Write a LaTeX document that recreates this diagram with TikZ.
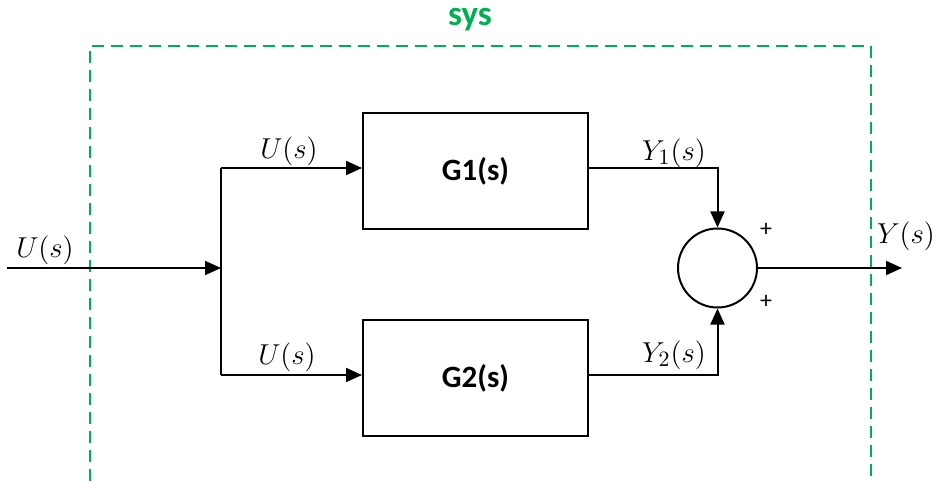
\documentclass[tikz,border=0pt]{standalone}
\usepackage{fontspec}
\setmainfont{Carlito}
\usetikzlibrary{positioning,calc,arrows.meta}
\definecolor{sysgreen}{HTML}{00B050}

\begin{document}
\begin{tikzpicture}[x=0.5pt,y=-0.5pt,line width=1pt,
	blk/.style={draw,minimum width=112.5pt,minimum height=58pt,inner sep=0pt,font=\fontsize{15.5}{18}\selectfont\bfseries},
	sumnode/.style={draw,circle,minimum size=39.5pt,inner sep=0pt},
	lbl/.style={inner sep=0pt,font=\fontsize{15}{17}\selectfont},
	arr/.style={-{Triangle[length=8pt,width=7pt]}}]
	\useasboundingbox (0,0) rectangle (933,481);
	% system frame
	\draw[sysgreen,dash pattern=on 6pt off 3.5pt] (90,481) -- (90,46) -- (871,46) -- (871,481);
	\node[text=sysgreen,font=\fontsize{17.5}{20}\selectfont\bfseries] (sys) at (470,20) {sys};
	% blocks
	\node[blk] (G1) at (475.5,171.5) {G1(s)};
	\node[blk] (G2) at (475.5,378) {G2(s)};
	\node[sumnode] (sum) at (717.5,268) {};
	\coordinate (in) at (7,268);
	\coordinate (split) at (221,268);
	\coordinate (top) at (221,168);
	\coordinate (bot) at (221,375);
	\coordinate (out) at (902,268);
	% connectors
	\draw[arr] (in) -- (split);
	\draw (top) -- (bot);
	\draw[arr] (top) -- (top -| G1.west);
	\draw[arr] (bot) -- (bot -| G2.west);
	\draw[arr] (G1.east |- top) -| (sum.north);
	\draw[arr] (G2.east |- bot) -| (sum.south);
	\draw[arr] (sum.east) -- (out);
	% labels
	\node[lbl] (uin) at (45,250) {$U(s)$};
	\node[lbl] (u1) at (289,151) {$U(s)$};
	\node[lbl] (u2) at (287,357) {$U(s)$};
	\node[lbl] (y1) at (674,153) {$Y_1(s)$};
	\node[lbl] (y2) at (674,355) {$Y_2(s)$};
	\node[lbl] (yout) at (906,236) {$Y(s)$};
	\node[lbl,font=\fontsize{12}{14}\selectfont] (p1) at (766,230) {+};
	\node[lbl,font=\fontsize{12}{14}\selectfont] (p2) at (766,302) {+};
\end{tikzpicture}
\end{document}
